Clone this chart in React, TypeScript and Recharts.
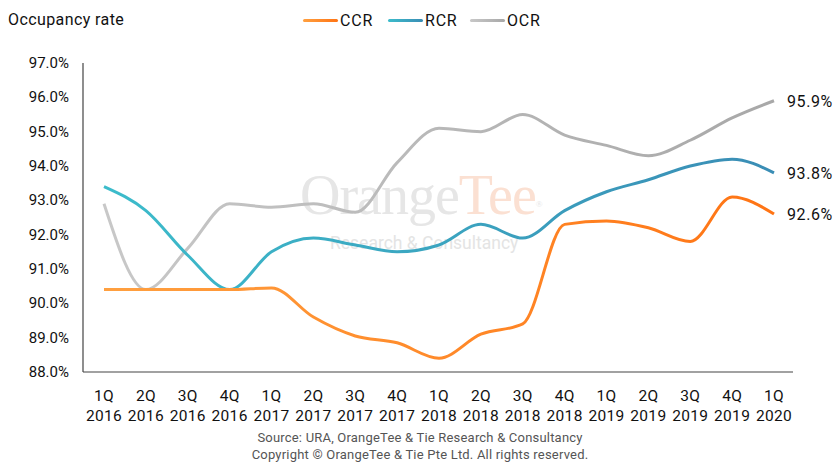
import React from "react";
import { LineChart, Line, XAxis, YAxis } from "recharts";

const quarters = ["1Q", "2Q", "3Q", "4Q", "1Q", "2Q", "3Q", "4Q", "1Q", "2Q", "3Q", "4Q", "1Q", "2Q", "3Q", "4Q", "1Q"];
const years = ["2016", "2016", "2016", "2016", "2017", "2017", "2017", "2017", "2018", "2018", "2018", "2018", "2019", "2019", "2019", "2019", "2020"];

const ccr = [90.4, 90.4, 90.4, 90.4, 90.45, 89.6, 89.05, 88.85, 88.4, 89.1, 89.4, 92.3, 92.4, 92.2, 91.8, 93.1, 92.6];
const rcr = [93.4, 92.7, 91.4, 90.4, 91.5, 91.9, 91.7, 91.5, 91.7, 92.3, 91.9, 92.7, 93.25, 93.6, 94.0, 94.2, 93.8];
const ocr = [92.9, 90.4, 91.6, 92.9, 92.8, 92.9, 92.65, 94.1, 95.1, 95.0, 95.5, 94.9, 94.6, 94.3, 94.75, 95.4, 95.9];

const yTicks = [88, 89, 90, 91, 92, 93, 94, 95, 96, 97];

const data = quarters.map((q, i) => ({
  key: `${q} ${years[i]}`,
  q,
  year: years[i],
  CCR: ccr[i],
  RCR: rcr[i],
  OCR: ocr[i],
}));

const FONT = "Roboto, 'Noto Sans', sans-serif";
const last = data.length - 1;

const legendItems = [
  { name: "CCR", left: 303, a: "#ffa040", b: "#ff7414" },
  { name: "RCR", left: 388, a: "#3cbccb", b: "#3a8db5" },
  { name: "OCR", left: 470, a: "#c8c8c8", b: "#a8a8a8" },
];

function XTick(props: any) {
  const { x, y, payload } = props;
  const d = data[payload.index] || data.find((r) => r.key === payload.value);
  return (
    <g fontSize={15.5} fill="#111" fontFamily={FONT} letterSpacing={0.3}>
      <text x={x} y={y + 21} textAnchor="middle">
        {d ? d.q : ""}
      </text>
      <text x={x} y={y + 41} textAnchor="middle">
        {d ? d.year : ""}
      </text>
    </g>
  );
}

function YTick(props: any) {
  const { x, y, payload } = props;
  return (
    <text x={x} y={y + 5} textAnchor="end" fontSize={15} fill="#111" fontFamily={FONT}>
      {payload.value.toFixed(1)}%
    </text>
  );
}

function endLabel(props: any) {
  const { x, y, index, value } = props;
  if (index !== last) return null;
  return (
    <text x={x + 13} y={y + 6} fontSize={16} letterSpacing={0.6} fill="#111" fontFamily={FONT}>
      {Number(value).toFixed(1)}%
    </text>
  );
}

export default function App() {
  return (
    <div style={{ position: "fixed", left: 0, top: 0, width: 834, height: 464, background: "#fff", fontFamily: FONT, overflow: "hidden" }}>
      <div style={{ position: "absolute", left: 8, top: 10, fontSize: 16, letterSpacing: 0.4, lineHeight: "20px", color: "#111" }}>Occupancy rate</div>

      {legendItems.map((it) => (
        <div key={it.name} style={{ position: "absolute", left: it.left, top: 10, height: 20, display: "flex", alignItems: "center", fontSize: 16, letterSpacing: 0.8, color: "#111" }}>
          <div style={{ width: 35, height: 3, borderRadius: 2, background: `linear-gradient(90deg, ${it.a}, ${it.b})`, marginRight: 2 }} />
          <span>{it.name}</span>
        </div>
      ))}

      <div style={{ position: "absolute", left: 0, top: 0, width: 834, height: 464, pointerEvents: "none" }}>
        <div style={{ position: "absolute", left: 300, top: 163, fontFamily: "'Liberation Serif', 'DejaVu Serif', serif", fontSize: 56, letterSpacing: -1, whiteSpace: "nowrap" }}>
          <span style={{ color: "#e6e6e6" }}>Orange</span>
          <span style={{ color: "#fbe0d2" }}>Tee</span>
          <span style={{ color: "#e6e6e6", fontSize: 9, verticalAlign: "top", position: "relative", top: 36 }}>®</span>
        </div>
        <div style={{ position: "absolute", left: 330, top: 233, fontSize: 17.5, color: "#e4e4e4", whiteSpace: "nowrap" }}>
          Research &amp; Consultancy
        </div>
      </div>

      <div style={{ position: "absolute", left: 0, top: 0 }}>
        <LineChart width={834} height={464} data={data} margin={{ top: 63, right: 41, bottom: 0, left: 0 }}>
          <defs>
            <linearGradient id="gCCR" x1="0" y1="0" x2="1" y2="0">
              <stop offset="0%" stopColor="#ffa040" />
              <stop offset="100%" stopColor="#ff7414" />
            </linearGradient>
            <linearGradient id="gRCR" x1="0" y1="0" x2="1" y2="0">
              <stop offset="0%" stopColor="#3cbccb" />
              <stop offset="100%" stopColor="#3a8db5" />
            </linearGradient>
            <linearGradient id="gOCR" x1="0" y1="0" x2="1" y2="0">
              <stop offset="0%" stopColor="#c8c8c8" />
              <stop offset="100%" stopColor="#a8a8a8" />
            </linearGradient>
          </defs>
          <XAxis
            dataKey="key"
            interval={0}
            padding={{ left: 21, right: 19 }}
            tickLine={false}
            axisLine={{ stroke: "#444", strokeWidth: 1.2 }}
            tick={<XTick />}
            height={92}
          />
          <YAxis
            domain={[88, 97]}
            ticks={yTicks}
            interval={0}
            width={83}
            tickLine={false}
            tickMargin={8}
            axisLine={{ stroke: "#444", strokeWidth: 1.2 }}
            tick={<YTick />}
          />
          <Line type="monotone" dataKey="OCR" stroke="url(#gOCR)" strokeWidth={3} dot={false} isAnimationActive={false} label={endLabel} />
          <Line type="monotone" dataKey="RCR" stroke="url(#gRCR)" strokeWidth={3} dot={false} isAnimationActive={false} label={endLabel} />
          <Line type="monotone" dataKey="CCR" stroke="url(#gCCR)" strokeWidth={3} dot={false} isAnimationActive={false} label={endLabel} />
        </LineChart>
      </div>

      <div style={{ position: "absolute", left: 6, width: 828, top: 429, textAlign: "center", fontSize: 13, letterSpacing: 0.2, color: "#555", lineHeight: "17px" }}>
        <div>Source: URA, OrangeTee &amp; Tie Research &amp; Consultancy</div>
        <div>Copyright © OrangeTee &amp; Tie Pte Ltd. All rights reserved.</div>
      </div>
    </div>
  );
}
